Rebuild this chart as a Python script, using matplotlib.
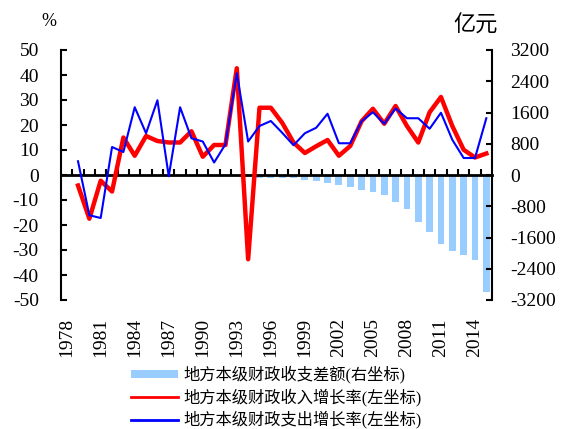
import numpy as np
import matplotlib
matplotlib.use("Agg")
import matplotlib.pyplot as plt
from matplotlib.patches import Patch
from matplotlib.lines import Line2D

plt.rcParams['font.serif'] = ['Liberation Serif', 'DejaVu Serif']
plt.rcParams['font.family'] = ['serif', 'Noto Sans CJK SC']
plt.rcParams['axes.unicode_minus'] = False

nan = np.nan
years = list(range(1978, 2016))
# 地方本级财政收入增长率 (%)
rev_growth = [nan, -4.2, -17.5, -2.3, -6.6, 15.0, 7.7, 15.6, 13.6, 13.0,
              13.0, 17.5, 7.3, 12.0, 12.0, 42.7, -33.7, 26.9, 26.9, 20.9,
              13.0, 8.8, 11.5, 14.0, 7.7, 11.6, 21.5, 26.5, 20.5, 27.6,
              19.6, 13.0, 25.1, 31.2, 19.6, 10.1, 7.0, 8.6]
# 地方本级财政支出增长率 (%)
exp_growth = [nan, 5.5, -16.1, -17.2, 11.2, 9.2, 27.1, 16.7, 29.9, -0.5,
              27.1, 14.7, 13.4, 5.0, 12.3, 40.7, 13.4, 19.6, 21.6, 16.9,
              11.9, 16.7, 18.9, 24.5, 12.7, 12.7, 21.5, 25.1, 20.5, 26.6,
              22.7, 22.7, 18.5, 24.9, 14.1, 6.8, 6.8, 22.7]
# 地方本级财政收支差额 (亿元)
gap = [nan] * 17 + [-65, -72, -75, -78, -125, -150, -210, -253, -304, -380,
                    -431, -507, -687, -862, -1214, -1454, -1755, -1938, -2040,
                    -2166, -2998]
label_years = years[::3]

legend_labels = ['地方本级财政收支差额(右坐标)',
                 '地方本级财政收入增长率(左坐标)',
                 '地方本级财政支出增长率(左坐标)']

fig = plt.figure(figsize=(5.63, 4.29), dpi=100)
ax = fig.add_axes([61/563, 1-300/429, 431/563, 250/429])
ax2 = ax.twinx()

x = np.arange(len(years))
ax2.bar(x, gap, width=0.6, color='#99CCFF')
ax2.set_ylim(-3200, 3200)
ax2.set_yticks(np.arange(-3200, 3201, 800))
ax2.tick_params(axis='y', direction='in', length=4, width=1.5, pad=13, labelsize=14)
for s in ['left', 'top', 'bottom']:
    ax2.spines[s].set_visible(False)
ax2.spines['right'].set_linewidth(1.5)

ax.set_zorder(ax2.get_zorder() + 1)
ax.patch.set_visible(False)
ax.plot(x, rev_growth, color='#FF0000', lw=3.2, zorder=3)
ax.plot(x, exp_growth, color='#0000FF', lw=1.5, zorder=4)
ax.set_ylim(-50, 50)
ax.set_xlim(-0.5, len(years) - 0.5)
ax.set_yticks(np.arange(-50, 51, 10))
ax.tick_params(axis='y', direction='in', length=4, width=1.5, pad=16, labelsize=14)

ax.spines['top'].set_visible(False)
ax.spines['right'].set_visible(False)
ax.spines['left'].set_linewidth(1.5)
ax.spines['bottom'].set_position(('data', 0))
ax.spines['bottom'].set_linewidth(2)

ax.set_xticks([years.index(y) for y in label_years])
ax.set_xticklabels([str(y) for y in label_years], rotation=90)
ax.set_xticks(np.arange(0.5, len(years) - 1, 1), minor=True)
ax.tick_params(axis='x', which='major', length=0, pad=103, labelsize=14)
ax.tick_params(axis='x', which='minor', direction='in', length=4, width=1.5)

fig.text(48.5/563, 1-22/429, '%', ha='center', va='center', fontsize=13)
fig.text(476/563, 1-25.5/429, '亿元', ha='center', va='center', fontsize=16,
         family=['Noto Sans CJK SC'])

handles = [Patch(facecolor='#99CCFF', edgecolor='none'),
           Line2D([], [], color='#FF0000', lw=2),
           Line2D([], [], color='#0000FF', lw=2)]
fig.legend(handles, legend_labels, loc='upper left', bbox_to_anchor=(131/563, 1-366/429),
           frameon=False, borderpad=0, borderaxespad=0, fontsize=11.7, handlelength=2.9,
           handleheight=0.45, handletextpad=0.3, labelspacing=0.28)

fig.savefig('out.png', dpi=100)
